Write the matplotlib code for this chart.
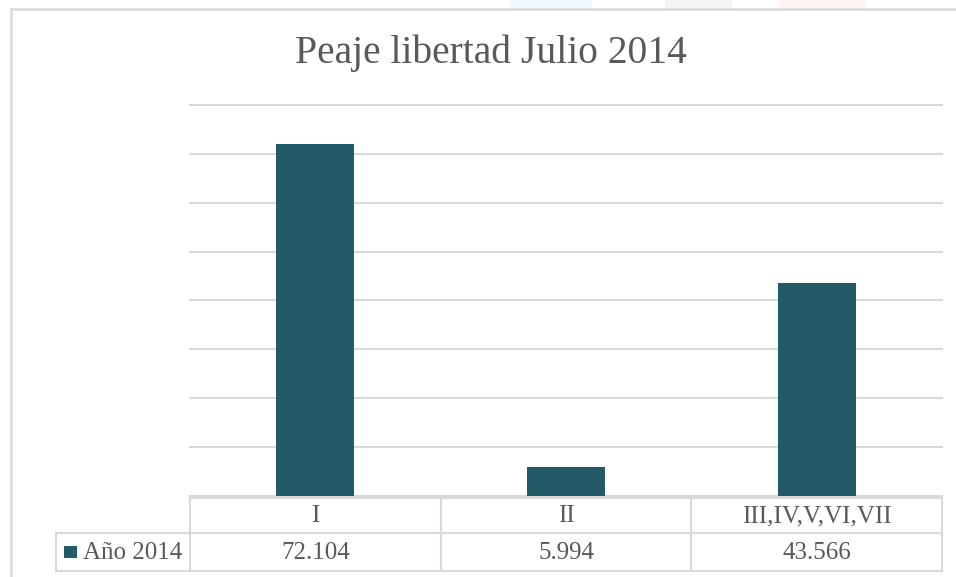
import matplotlib
matplotlib.use("Agg")
import matplotlib.pyplot as plt
from matplotlib.patches import Rectangle
from matplotlib.lines import Line2D
import matplotlib.transforms as mtransforms

categories = ["I", "II", "III,IV,V,VI,VII"]
values = [72104, 5994, 43566]
series_name = "Año 2014"
title = "Peaje libertad Julio 2014"
y_max = 80000
y_step = 10000

bar_color = "#225A68"
grid_color = "#D9D9D9"
text_color = "#595959"
FONT = ["Liberation Serif", "DejaVu Serif"]

W, H = 956, 577
fig = plt.figure(figsize=(W / 100, H / 100), dpi=100)
fig.patch.set_facecolor("white")

def fx(px):
    return px / W

def fy(py):
    return 1 - py / H

# faint watermark blobs at the top
for x0, x1, c in [(510, 592, "#F1F8FD"), (665, 732, "#F3F5F3"), (780, 866, "#FDF3F3")]:
    fig.patches.append(Rectangle((fx(x0), fy(9)), fx(x1 - x0), 9 / H,
                                 transform=fig.transFigure, facecolor=c,
                                 edgecolor="none", zorder=0))

# chart frame
fig.add_artist(Line2D([fx(11), fx(11)], [fy(9), 0], transform=fig.transFigure,
                      color=grid_color, lw=1.8))
fig.add_artist(Line2D([fx(11), 1], [fy(9), fy(9)], transform=fig.transFigure,
                      color=grid_color, lw=1.8))

# plot area
left, right, top, bottom = 190, 942, 105, 496
ax = fig.add_axes([fx(left), fy(bottom), fx(right - left), (bottom - top) / H])
ax.set_xlim(-0.5, len(categories) - 0.5)
ax.set_ylim(0, y_max)
xs = list(range(len(categories)))
ax.bar(xs, values, width=0.31, color=bar_color, zorder=3)
for v in range(0, y_max + 1, y_step):
    ax.axhline(v, color=grid_color, lw=1.5, zorder=1, clip_on=False)
for s in ax.spines.values():
    s.set_visible(False)
ax.set_xticks([])
ax.set_yticks([])
ax.patch.set_alpha(0)

fig.text(0.5 * (fx(298) + fx(684)), fy(53), title, ha="center", va="center",
         fontsize=28.5, color=text_color, family=FONT)

# data table
blend = mtransforms.blended_transform_factory(ax.transData, fig.transFigure)
lw = 1.5
hdr_top, hdr_bot, row_bot = 498, 533, 571
n = len(categories)
for yy in [hdr_top, hdr_bot, row_bot]:
    fig.add_artist(Line2D([-0.5, n - 0.5], [fy(yy), fy(yy)], transform=blend,
                          color=grid_color, lw=lw))
for yy in [hdr_bot, row_bot]:
    fig.add_artist(Line2D([fx(56), fx(left)], [fy(yy), fy(yy)], transform=fig.transFigure,
                          color=grid_color, lw=lw))
for xb in [i - 0.5 for i in range(n + 1)]:
    fig.add_artist(Line2D([xb, xb], [fy(hdr_top), fy(row_bot)], transform=blend,
                          color=grid_color, lw=lw))
fig.add_artist(Line2D([fx(56), fx(56)], [fy(hdr_bot), fy(row_bot)], transform=fig.transFigure,
                      color=grid_color, lw=lw))

def fmt(v):
    return f"{v:,}".replace(",", ".")

for x, cat, v in zip(xs, categories, values):
    fig.text(x, fy(516), cat, transform=blend, ha="center", va="center",
             fontsize=18, color=text_color, family=FONT)
    fig.text(x, fy(553), fmt(v), transform=blend, ha="center", va="center",
             fontsize=18, color=text_color, family=FONT)

fig.patches.append(Rectangle((fx(64), fy(558)), fx(13), 12 / H, transform=fig.transFigure,
                             facecolor=bar_color, edgecolor="none"))
fig.text(fx(83), fy(553), series_name, ha="left", va="center",
         fontsize=18, color=text_color, family=FONT)

fig.savefig("out.png", dpi=100, facecolor="white")
